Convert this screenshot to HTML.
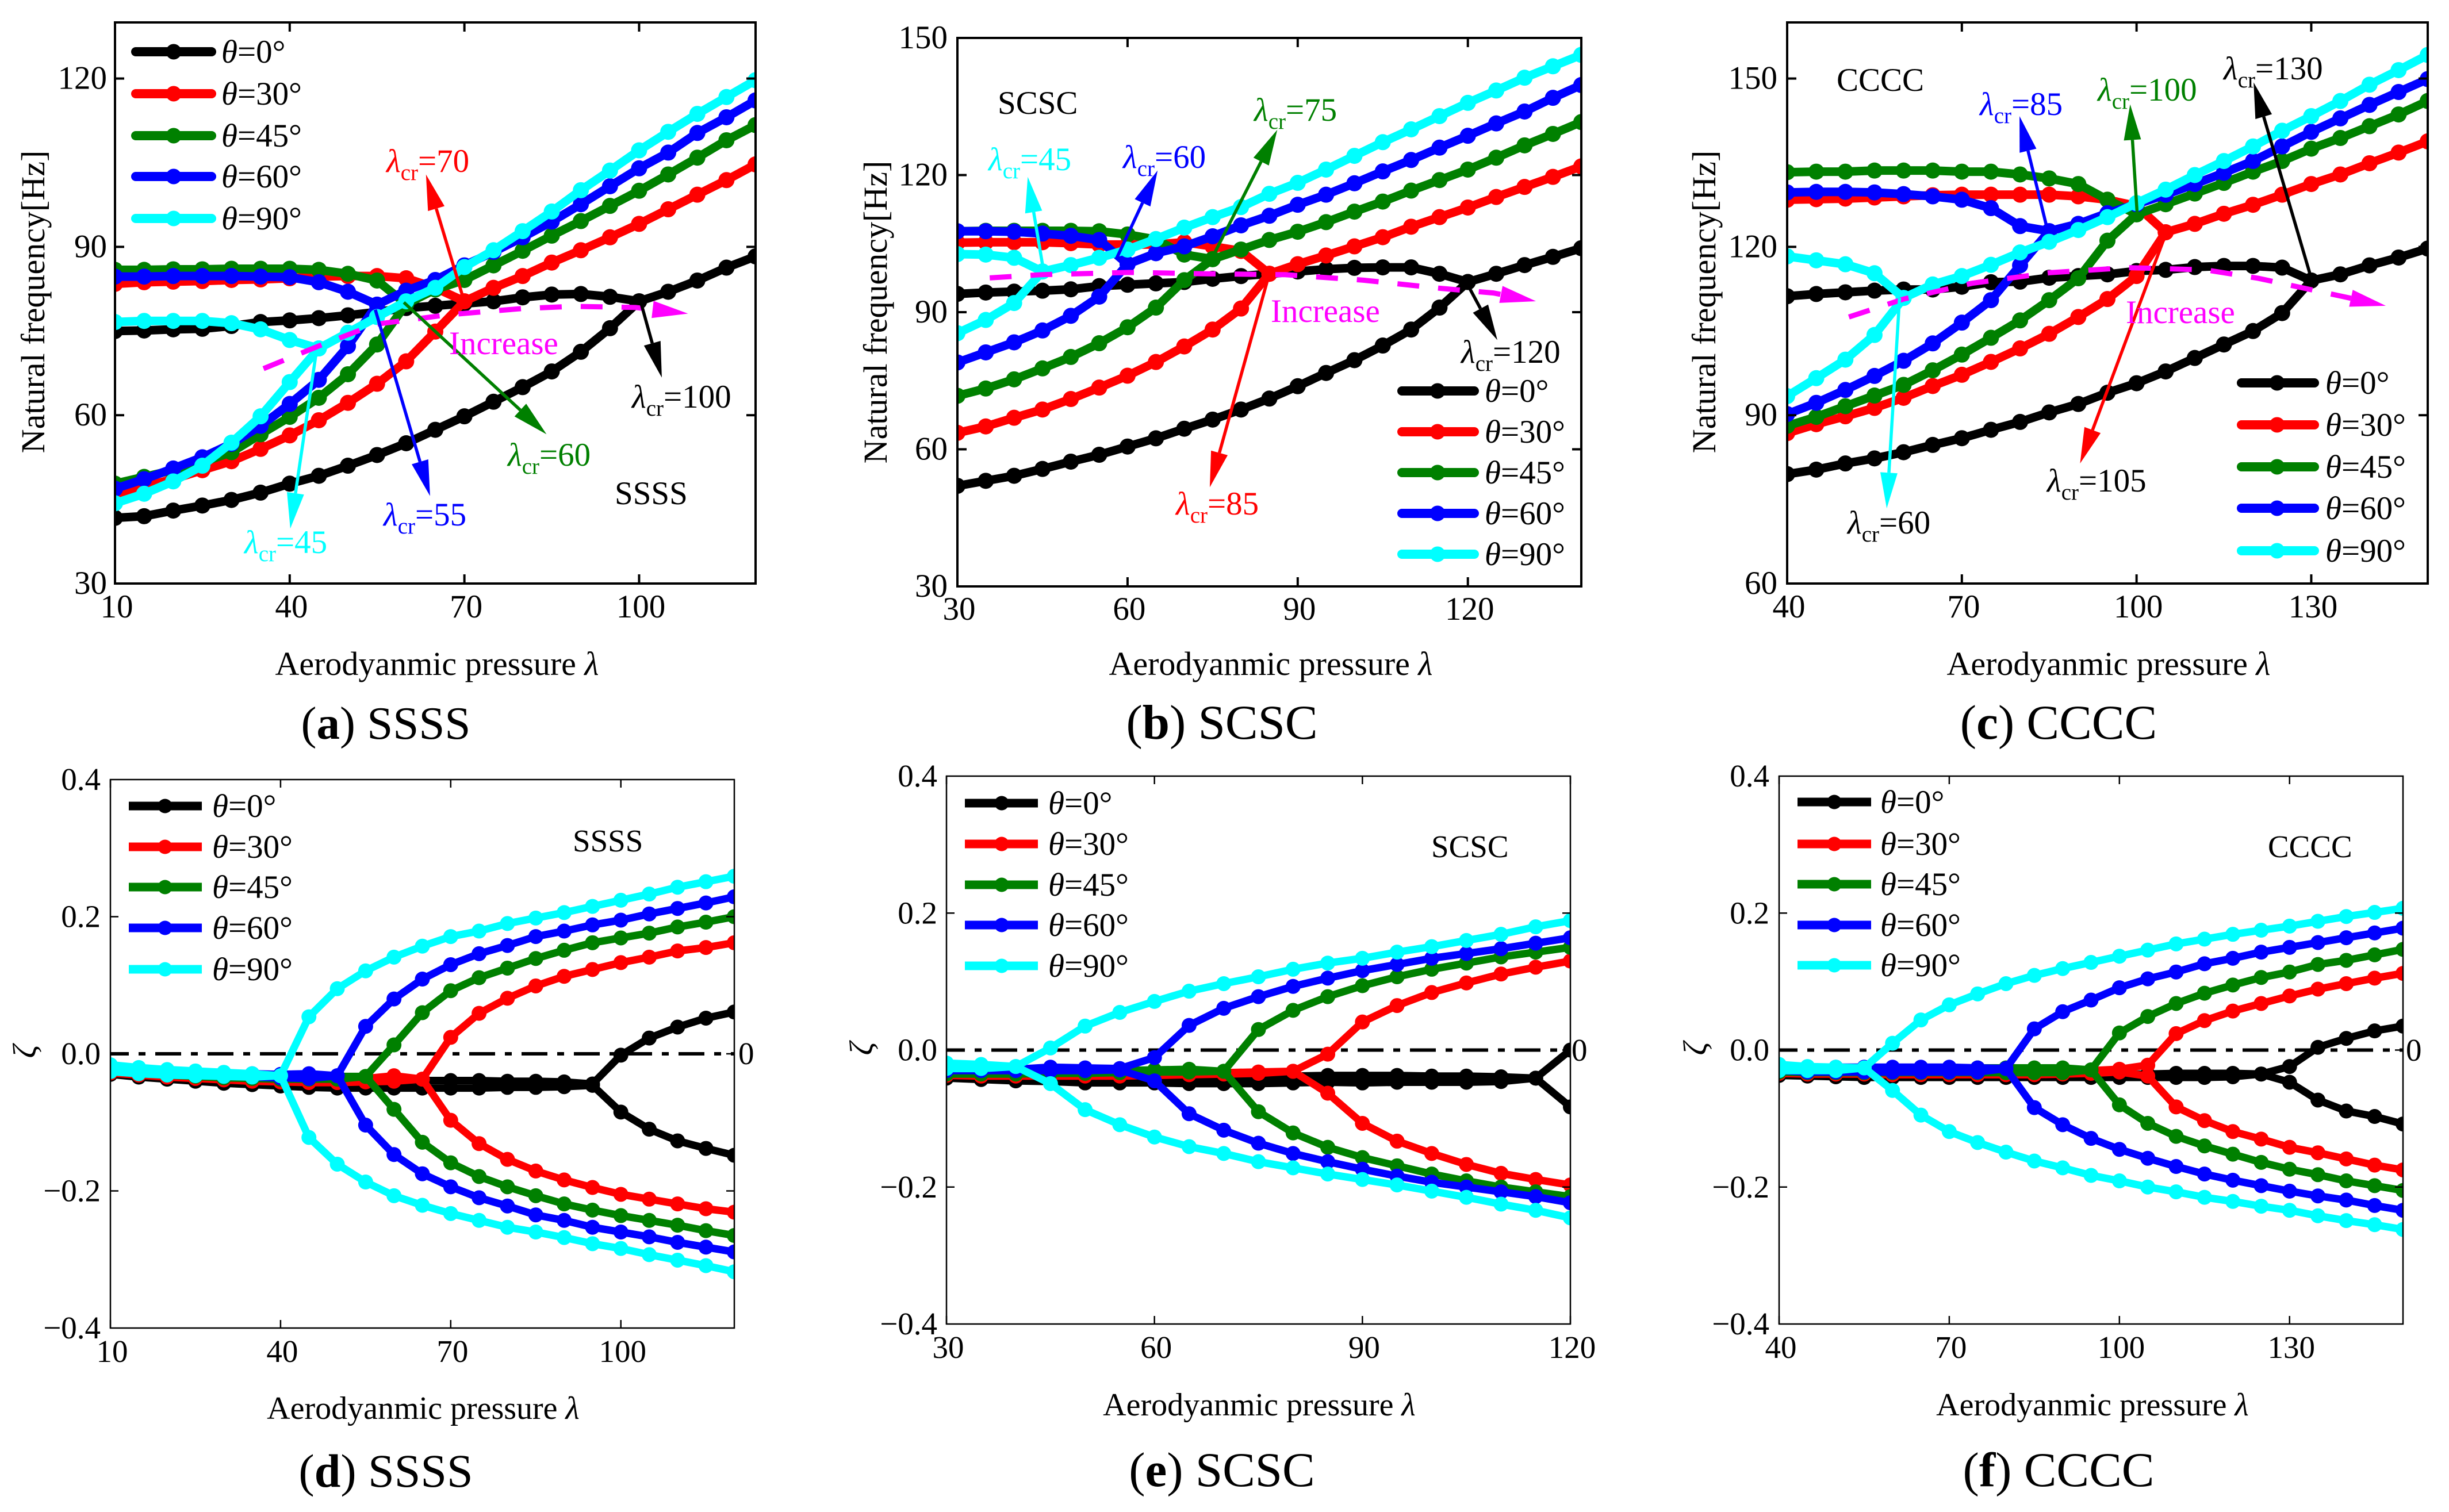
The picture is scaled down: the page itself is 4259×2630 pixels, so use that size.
<!DOCTYPE html>
<html lang="en">
<head>
<meta charset="utf-8">
<title>Natural frequency and damping versus aerodynamic pressure</title>
<style>
html,body{margin:0;padding:0;background:#fff;}
svg{display:block;}
text{font-family:"Liberation Serif","Noto Serif CJK SC",serif;font-size:57px;fill:#000;}
.i{font-style:italic;}
.s{font-size:39px;}
.cap{font-size:81px;text-anchor:middle;}
.capw{font-size:85px;}
.capd{font-size:82px;}
.b{font-weight:bold;}
.mid{text-anchor:middle;}
.sm{font-size:55px;}
.t{font-size:58px;}
.ts{font-size:56px;}
.leg line{stroke-width:16;stroke-linecap:round;}
.leg2 line{stroke-width:15;stroke-linecap:butt;}
</style>
</head>
<body>
<svg xmlns="http://www.w3.org/2000/svg" width="4259" height="2630" viewBox="0 0 4259 2630">
<rect width="4259" height="2630" fill="#fff"/>
<defs id="clips"></defs>
<g id="plot-a"></g>
<g id="plot-b"></g>
<g id="plot-c"></g>
<g id="plot-d"></g>
<g id="plot-e"></g>
<g id="plot-f"></g>

<!-- Panel a -->
<g>
<g class="leg">
<g><line x1="236" x2="368" y1="90" y2="90" stroke="#000"/><circle cx="302" cy="90" r="13.5" fill="#000"/><text x="385" y="109"><tspan class="i">θ</tspan>=0°</text></g>
<g><line x1="236" x2="368" y1="163" y2="163" stroke="#f00"/><circle cx="302" cy="163" r="13.5" fill="#f00"/><text x="385" y="182"><tspan class="i">θ</tspan>=30°</text></g>
<g><line x1="236" x2="368" y1="236" y2="236" stroke="#008000"/><circle cx="302" cy="236" r="13.5" fill="#008000"/><text x="385" y="255"><tspan class="i">θ</tspan>=45°</text></g>
<g><line x1="236" x2="368" y1="307" y2="307" stroke="#00f"/><circle cx="302" cy="307" r="13.5" fill="#00f"/><text x="385" y="326"><tspan class="i">θ</tspan>=60°</text></g>
<g><line x1="236" x2="368" y1="380" y2="380" stroke="#0ff"/><circle cx="302" cy="380" r="13.5" fill="#0ff"/><text x="385" y="399"><tspan class="i">θ</tspan>=90°</text></g>
</g>
<text x="77" y="525" class="mid t" transform="rotate(-90 77 525)">Natural frequency[Hz]</text>
<text x="760" y="1174" class="mid t">Aerodyanmic pressure <tspan class="i">λ</tspan></text>
<text x="671" y="1285" class="cap">(<tspan class="b">a</tspan>) SSSS</text>
<text x="1069" y="877">SSSS</text>
<text x="781" y="616" style="fill:#f0f">Increase</text>
<text x="672" y="299" style="fill:#f00"><tspan class="i">λ</tspan><tspan class="s" dy="14">cr</tspan><tspan dy="-14">=70</tspan></text>
<text x="883" y="810" style="fill:#008000"><tspan class="i">λ</tspan><tspan class="s" dy="14">cr</tspan><tspan dy="-14">=60</tspan></text>
<text x="667" y="914" style="fill:#00f"><tspan class="i">λ</tspan><tspan class="s" dy="14">cr</tspan><tspan dy="-14">=55</tspan></text>
<text x="425" y="962" style="fill:#0ff"><tspan class="i">λ</tspan><tspan class="s" dy="14">cr</tspan><tspan dy="-14">=45</tspan></text>
<text x="1099" y="709"><tspan class="i">λ</tspan><tspan class="s" dy="14">cr</tspan><tspan dy="-14">=100</tspan></text>
</g>

<!-- Panel b -->
<g>
<g class="leg">
<g><line x1="2438" x2="2564" y1="680" y2="680" stroke="#000"/><circle cx="2500" cy="680" r="13.5" fill="#000"/><text x="2582" y="699"><tspan class="i">θ</tspan>=0°</text></g>
<g><line x1="2438" x2="2564" y1="751" y2="751" stroke="#f00"/><circle cx="2500" cy="751" r="13.5" fill="#f00"/><text x="2582" y="770"><tspan class="i">θ</tspan>=30°</text></g>
<g><line x1="2438" x2="2564" y1="822" y2="822" stroke="#008000"/><circle cx="2500" cy="822" r="13.5" fill="#008000"/><text x="2582" y="841"><tspan class="i">θ</tspan>=45°</text></g>
<g><line x1="2438" x2="2564" y1="893" y2="893" stroke="#00f"/><circle cx="2500" cy="893" r="13.5" fill="#00f"/><text x="2582" y="912"><tspan class="i">θ</tspan>=60°</text></g>
<g><line x1="2438" x2="2564" y1="964" y2="964" stroke="#0ff"/><circle cx="2500" cy="964" r="13.5" fill="#0ff"/><text x="2582" y="983"><tspan class="i">θ</tspan>=90°</text></g>
</g>
<text x="1542" y="543" class="mid t" transform="rotate(-90 1542 543)">Natural frequency[Hz]</text>
<text x="2210" y="1174" class="mid t">Aerodyanmic pressure <tspan class="i">λ</tspan></text>
<text x="2125" y="1285" class="cap capw">(<tspan class="b">b</tspan>) SCSC</text>
<text x="1735" y="198">SCSC</text>
<text x="2210" y="560" style="fill:#f0f">Increase</text>
<text x="1719" y="296" style="fill:#0ff"><tspan class="i">λ</tspan><tspan class="s" dy="14">cr</tspan><tspan dy="-14">=45</tspan></text>
<text x="1953" y="292" style="fill:#00f"><tspan class="i">λ</tspan><tspan class="s" dy="14">cr</tspan><tspan dy="-14">=60</tspan></text>
<text x="2181" y="210" style="fill:#008000"><tspan class="i">λ</tspan><tspan class="s" dy="14">cr</tspan><tspan dy="-14">=75</tspan></text>
<text x="2045" y="895" style="fill:#f00"><tspan class="i">λ</tspan><tspan class="s" dy="14">cr</tspan><tspan dy="-14">=85</tspan></text>
<text x="2541" y="631"><tspan class="i">λ</tspan><tspan class="s" dy="14">cr</tspan><tspan dy="-14">=120</tspan></text>
</g>

<!-- Panel c -->
<g>
<g class="leg">
<g><line x1="3898" x2="4025" y1="666" y2="666" stroke="#000"/><circle cx="3960" cy="666" r="13.5" fill="#000"/><text x="4044" y="685"><tspan class="i">θ</tspan>=0°</text></g>
<g><line x1="3898" x2="4025" y1="739" y2="739" stroke="#f00"/><circle cx="3960" cy="739" r="13.5" fill="#f00"/><text x="4044" y="758"><tspan class="i">θ</tspan>=30°</text></g>
<g><line x1="3898" x2="4025" y1="812" y2="812" stroke="#008000"/><circle cx="3960" cy="812" r="13.5" fill="#008000"/><text x="4044" y="831"><tspan class="i">θ</tspan>=45°</text></g>
<g><line x1="3898" x2="4025" y1="884" y2="884" stroke="#00f"/><circle cx="3960" cy="884" r="13.5" fill="#00f"/><text x="4044" y="903"><tspan class="i">θ</tspan>=60°</text></g>
<g><line x1="3898" x2="4025" y1="958" y2="958" stroke="#0ff"/><circle cx="3960" cy="958" r="13.5" fill="#0ff"/><text x="4044" y="977"><tspan class="i">θ</tspan>=90°</text></g>
</g>
<text x="2983" y="525" class="mid t" transform="rotate(-90 2983 525)">Natural frequency[Hz]</text>
<text x="3667" y="1174" class="mid t">Aerodyanmic pressure <tspan class="i">λ</tspan></text>
<text x="3580" y="1285" class="cap capw">(<tspan class="b">c</tspan>) CCCC</text>
<text x="3194" y="158">CCCC</text>
<text x="3697" y="562" style="fill:#f0f">Increase</text>
<text x="3443" y="200" style="fill:#00f"><tspan class="i">λ</tspan><tspan class="s" dy="14">cr</tspan><tspan dy="-14">=85</tspan></text>
<text x="3648" y="175" style="fill:#008000"><tspan class="i">λ</tspan><tspan class="s" dy="14">cr</tspan><tspan dy="-14">=100</tspan></text>
<text x="3867" y="138"><tspan class="i">λ</tspan><tspan class="s" dy="14">cr</tspan><tspan dy="-14">=130</tspan></text>
<text x="3213" y="928"><tspan class="i">λ</tspan><tspan class="s" dy="14">cr</tspan><tspan dy="-14">=60</tspan></text>
<text x="3560" y="855"><tspan class="i">λ</tspan><tspan class="s" dy="14">cr</tspan><tspan dy="-14">=105</tspan></text>
</g>

<!-- Panel d -->
<g>
<g class="leg2">
<g><line x1="224" x2="351" y1="1402" y2="1402" stroke="#000"/><circle cx="287" cy="1402" r="12.5" fill="#000"/><text x="369" y="1421"><tspan class="i">θ</tspan>=0°</text></g>
<g><line x1="224" x2="351" y1="1473" y2="1473" stroke="#f00"/><circle cx="287" cy="1473" r="12.5" fill="#f00"/><text x="369" y="1492"><tspan class="i">θ</tspan>=30°</text></g>
<g><line x1="224" x2="351" y1="1543" y2="1543" stroke="#008000"/><circle cx="287" cy="1543" r="12.5" fill="#008000"/><text x="369" y="1562"><tspan class="i">θ</tspan>=45°</text></g>
<g><line x1="224" x2="351" y1="1614" y2="1614" stroke="#00f"/><circle cx="287" cy="1614" r="12.5" fill="#00f"/><text x="369" y="1633"><tspan class="i">θ</tspan>=60°</text></g>
<g><line x1="224" x2="351" y1="1686" y2="1686" stroke="#0ff"/><circle cx="287" cy="1686" r="12.5" fill="#0ff"/><text x="369" y="1705"><tspan class="i">θ</tspan>=90°</text></g>
</g>
<text x="62" y="1829" class="mid i" transform="rotate(-90 62 1829)">ζ</text>
<text x="736" y="2468" class="mid ts">Aerodyanmic pressure <tspan class="i">λ</tspan></text>
<text x="671" y="2586" class="cap capd">(<tspan class="b">d</tspan>) SSSS</text>
<text x="996" y="1481" class="sm">SSSS</text>
<text x="1284" y="1851" class="sm">0</text>
</g>

<!-- Panel e -->
<g>
<g class="leg2">
<g><line x1="1678" x2="1805" y1="1397" y2="1397" stroke="#000"/><circle cx="1742" cy="1397" r="12.5" fill="#000"/><text x="1823" y="1416"><tspan class="i">θ</tspan>=0°</text></g>
<g><line x1="1678" x2="1805" y1="1468" y2="1468" stroke="#f00"/><circle cx="1742" cy="1468" r="12.5" fill="#f00"/><text x="1823" y="1487"><tspan class="i">θ</tspan>=30°</text></g>
<g><line x1="1678" x2="1805" y1="1539" y2="1539" stroke="#008000"/><circle cx="1742" cy="1539" r="12.5" fill="#008000"/><text x="1823" y="1558"><tspan class="i">θ</tspan>=45°</text></g>
<g><line x1="1678" x2="1805" y1="1609" y2="1609" stroke="#00f"/><circle cx="1742" cy="1609" r="12.5" fill="#00f"/><text x="1823" y="1628"><tspan class="i">θ</tspan>=60°</text></g>
<g><line x1="1678" x2="1805" y1="1680" y2="1680" stroke="#0ff"/><circle cx="1742" cy="1680" r="12.5" fill="#0ff"/><text x="1823" y="1699"><tspan class="i">θ</tspan>=90°</text></g>
</g>
<text x="1517" y="1824" class="mid i" transform="rotate(-90 1517 1824)">ζ</text>
<text x="2190" y="2462" class="mid ts">Aerodyanmic pressure <tspan class="i">λ</tspan></text>
<text x="2125" y="2585" class="cap capw">(<tspan class="b">e</tspan>) SCSC</text>
<text x="2489" y="1491" class="sm">SCSC</text>
<text x="2733" y="1845" class="sm">0</text>
</g>

<!-- Panel f -->
<g>
<g class="leg2">
<g><line x1="3126" x2="3254" y1="1395" y2="1395" stroke="#000"/><circle cx="3190" cy="1395" r="12.5" fill="#000"/><text x="3270" y="1414"><tspan class="i">θ</tspan>=0°</text></g>
<g><line x1="3126" x2="3254" y1="1468" y2="1468" stroke="#f00"/><circle cx="3190" cy="1468" r="12.5" fill="#f00"/><text x="3270" y="1487"><tspan class="i">θ</tspan>=30°</text></g>
<g><line x1="3126" x2="3254" y1="1538" y2="1538" stroke="#008000"/><circle cx="3190" cy="1538" r="12.5" fill="#008000"/><text x="3270" y="1557"><tspan class="i">θ</tspan>=45°</text></g>
<g><line x1="3126" x2="3254" y1="1609" y2="1609" stroke="#00f"/><circle cx="3190" cy="1609" r="12.5" fill="#00f"/><text x="3270" y="1628"><tspan class="i">θ</tspan>=60°</text></g>
<g><line x1="3126" x2="3254" y1="1679" y2="1679" stroke="#0ff"/><circle cx="3190" cy="1679" r="12.5" fill="#0ff"/><text x="3270" y="1698"><tspan class="i">θ</tspan>=90°</text></g>
</g>
<text x="2967" y="1824" class="mid i" transform="rotate(-90 2967 1824)">ζ</text>
<text x="3639" y="2462" class="mid ts">Aerodyanmic pressure <tspan class="i">λ</tspan></text>
<text x="3580" y="2585" class="cap capw">(<tspan class="b">f</tspan>) CCCC</text>
<text x="3944" y="1491" class="sm">CCCC</text>
<text x="4184" y="1845" class="sm">0</text>
</g>
</svg>

<script>
// ---------- shared categories and tick labels ----------
const lambda10to120 = [10,15,20,25,30,35,40,45,50,55,60,65,70,75,80,85,90,95,100,105,110,115,120];
const lambda30to140 = [30,35,40,45,50,55,60,65,70,75,80,85,90,95,100,105,110,115,120,125,130,135,140];
const lambda40to150 = [40,45,50,55,60,65,70,75,80,85,90,95,100,105,110,115,120,125,130,135,140,145,150];
const lambda30to120 = [30,35,40,45,50,55,60,65,70,75,80,85,90,95,100,105,110,115,120];
const seriesNames = ['theta-0','theta-30','theta-45','theta-60','theta-90'];
const seriesColors = ['#000','#f00','#008000','#00f','#0ff'];
const aXTicks = [10,40,70,100];
const aYTicks = [30,60,90,120];
const bXTicks = [30,60,90,120];
const bYTicks = [30,60,90,120,150];
const cXTicks = [40,70,100,130];
const cYTicks = [60,90,120,150];
const dXTicks = [10,40,70,100];
const eXTicks = [30,60,90,120];
const fXTicks = [40,70,100,130];
const zetaTicks = [-0.4,-0.2,0,0.2,0.4];

// ---------- panel a: frequency, SSSS ----------
const aBlackLow = [41.7,42,43,43.9,44.9,46.2,47.8,49.2,51,52.9,55,57.4,59.8,62.4,65,67.8,71.3,75.5,80.3,82,84,86.3,88.3];
const aBlackHigh = [75,75.1,75.3,75.4,75.9,76.6,76.9,77.3,77.8,78.4,79.1,79.5,79.9,80.3,81,81.5,81.6,81.1,80.3];
const aRedLow = [46,47.3,48.6,50.2,51.8,54,56.4,59.1,62.2,65.6,69.6,74.9,80.3,82.7,84.8,87.2,89.4,91.7,94.1,96.7,99.3,101.9,104.7];
const aRedHigh = [83.4,83.7,83.8,83.9,84.1,84.2,84.4,84.7,84.8,84.8,84.4,82.7,80.3];
const aGreenLow = [47.8,49,50.2,51.6,53.4,56.6,59.7,63.1,67.3,72.6,79.8,82.4,84.1,86.7,89.3,92,94.6,97.3,100,102.9,105.9,109,111.7];
const aGreenHigh = [85.9,85.9,86,86,86.1,86.1,86.1,85.9,85.2,84,79.8];
const aBlueLow = [46.9,48.6,50.5,52.5,54.9,58.1,62,66.3,72.3,79.7,82.2,84.1,86.7,89.1,91.7,94.5,97.6,100.8,104,106.8,110.3,113.1,116.1];
const aBlueHigh = [84.7,84.7,84.8,84.8,84.8,84.7,84.6,83.7,82,79.7];
const aCyanLow = [44.3,46,48.2,51,55.1,59.8,65.9,71.9,74.7,77.5,80.3,82.7,86.4,89.4,92.8,96.3,100.1,103.6,107.2,110.5,113.7,116.7,119.7];
const aCyanHigh = [76.6,76.8,76.8,76.8,76.4,75.3,73.4,71.9];
const aIncreaseLambda = [35.5,44.9,54.7,67.2,79.8,88.7,99.4,108.4];
const aIncreaseFreq = [68.3,72.3,76.2,77.9,79,79.4,79.2,78.1];
const aArrowFrom = [[100.3,80.1],[69.7,81.2],[59.6,80.1],[54.7,78.8],[44.6,71.5]];
const aArrowTo = [[103.9,66.7],[63.4,102.9],[84.1,56.6],[64.1,45.6],[40.1,39.8]];

// ---------- panel b: frequency, SCSC ----------
const bBlackLow = [52,53.1,54.2,55.7,57.3,58.8,60.6,62.4,64.5,66.5,68.7,71.1,73.8,76.7,79.5,82.7,86.2,91,96.6,98.4,100.3,102.1,104];
const bBlackHigh = [94,94.3,94.5,94.7,95,95.7,96,96.3,96.6,97.3,97.9,98.4,98.9,99.4,99.7,99.8,99.8,98.4,96.6];
const bRedLow = [63.6,65,66.9,68.7,71,73.5,76.1,79.1,82.5,86.2,90.8,98.4,100.5,102.4,104.4,106.4,108.7,110.8,112.9,115.2,117.4,119.6,121.9];
const bRedHigh = [105.2,105.3,105.3,105.3,105.1,104.8,104.8,104.8,105.3,104.4,103.4,98.4];
const bGreenLow = [71.7,73.3,75.3,77.7,80.2,83.2,86.7,91,97,101.6,103.7,105.8,107.6,109.7,112,114.2,116.6,118.9,121.2,123.8,126.5,129,131.6];
const bGreenHigh = [107.7,107.8,107.8,107.8,107.8,107.7,107,105.9,102.6,101.6];
const bBlueLow = [79,81.2,83.4,86,89.2,93.4,100.5,102.9,104.4,106.6,109,111.1,113.5,115.7,118.2,120.8,123.3,126,128.6,131.3,133.9,136.9,139.7];
const bBlueHigh = [107.7,107.7,107.6,107.2,106.7,105.8,100.5];
const bCyanLow = [85.4,88.3,92,98.9,100.3,101.9,103.7,106,108.5,110.8,113,115.9,118.3,121.2,124.2,127.2,130,132.9,135.8,138.5,141.3,143.8,146.3];
const bCyanHigh = [102.7,102.6,101.9,98.9];
const bIncreaseLambda = [35.7,44.7,60.3,74,87.8,101.6,115.3,124.5,132];
const bIncreaseFreq = [97.5,98.2,98.7,98.4,98.2,97,95.2,94.2,92.4];
const bArrowFrom = [[120.1,95.7],[85.1,98.9],[75,102.1],[58,101.6],[45.1,99.7]];
const bArrowTo = [[125.2,83.9],[74.5,51.7],[86.4,129.9],[65.3,121],[42.4,119.6]];

// ---------- panel c: frequency, CCCC ----------
const cBlackLow = [79.5,80.3,81.4,82.3,83.4,84.7,85.9,87.4,88.8,90.5,92,94,95.7,97.8,100.2,102.6,105,108.2,114,115.1,116.7,118.1,119.7];
const cBlackHigh = [111.2,111.6,111.9,112.2,112.4,112.4,112.9,113.7,113.8,114.5,114.8,115.1,115.7,115.9,116.4,116.6,116.6,116.3,114];
const cRedLow = [86.8,88.4,89.8,91.3,93.1,95.2,97.2,99.5,101.9,104.5,107.5,110.7,114.8,122.6,124.1,125.9,127.5,129.3,131.2,132.9,134.9,136.8,138.8];
const cRedHigh = [128.4,128.5,128.6,128.8,129,129.2,129.3,129.3,129.3,129.3,129,128.4,127.3,122.6];
const cGreenLow = [88.1,89.7,91.6,93.5,95.4,98,100.8,103.8,106.9,110.5,114.4,121.1,125.8,127.6,129.5,131.4,133.4,135.3,137.5,139.4,141.5,143.6,146];
const cGreenHigh = [133.3,133.4,133.4,133.6,133.6,133.6,133.4,133.4,132.9,132.2,131.2,128.4,125.8];
const cBlueLow = [90.2,92.2,94.5,97,99.7,102.8,106.5,110.5,116.7,122.8,124.1,126,127.6,129.3,131.2,133.2,135.3,137.9,140.5,142.9,145.3,147.6,149.9];
const cBlueHigh = [129.7,129.8,129.8,129.7,129.4,129,128.4,126.9,123.7,122.8];
const cCyanLow = [93.4,96.6,99.9,104.3,110.9,113.3,114.8,116.8,119,120.9,123,125.3,127.8,130.2,132.8,135.3,137.9,140.7,143.3,146,148.9,151.5,154.2];
const cCyanHigh = [118.3,117.6,116.9,115.3,110.9];
const cIncreaseLambda = [50.6,60,71.7,85.1,98.5,111.9,120.9,132.5,142.8];
const cIncreaseFreq = [107.5,110.7,113.5,115.4,116.3,115.9,114.4,111.8,109.5];
const cArrowFrom = [[130,114.4],[104.8,121.7],[100.1,126],[84.8,122.6],[59.3,110.9]];
const cArrowTo = [[120.1,149.3],[90.3,81.4],[98.9,145.4],[79.9,143.3],[57.1,73.4]];

// ---------- panel d: damping, SSSS ----------
const dBlackUpper = [-.028,-.031,-.033,-.035,-.037,-.038,-.039,-.04,-.04,-.04,-.04,-.039,-.039,-.039,-.04,-.04,-.041,-.044,-.002,.023,.039,.052,.061];
const dBlackLower = [-.03,-.034,-.037,-.04,-.043,-.045,-.047,-.049,-.05,-.05,-.05,-.05,-.05,-.05,-.049,-.049,-.048,-.046,-.085,-.11,-.127,-.138,-.148];
const dRedUpper = [-.025,-.028,-.03,-.032,-.034,-.035,-.036,-.037,-.037,-.036,-.032,-.037,.024,.059,.081,.099,.113,.123,.133,.141,.15,.155,.162];
const dRedLower = [-.028,-.031,-.034,-.036,-.038,-.04,-.041,-.042,-.042,-.041,-.04,-.037,-.097,-.131,-.154,-.171,-.184,-.195,-.205,-.212,-.219,-.226,-.231];
const dGreenUpper = [-.022,-.025,-.027,-.029,-.03,-.031,-.032,-.033,-.033,-.033,.013,.06,.092,.111,.125,.139,.151,.162,.169,.176,.185,.192,.2];
const dGreenLower = [-.026,-.029,-.031,-.033,-.035,-.036,-.037,-.037,-.037,-.033,-.081,-.129,-.159,-.179,-.194,-.207,-.219,-.228,-.236,-.243,-.25,-.258,-.265];
const dBlueUpper = [-.02,-.023,-.025,-.027,-.028,-.029,-.03,-.029,-.032,.04,.08,.109,.13,.146,.158,.171,.179,.188,.195,.204,.212,.22,.229];
const dBlueLower = [-.024,-.027,-.029,-.031,-.033,-.034,-.035,-.036,-.032,-.104,-.147,-.175,-.194,-.21,-.222,-.235,-.243,-.253,-.26,-.267,-.275,-.282,-.289];
const dCyanUpper = [-.016,-.02,-.023,-.025,-.027,-.029,-.032,.054,.095,.121,.141,.157,.171,.179,.19,.198,.206,.215,.224,.233,.243,.251,.259];
const dCyanLower = [-.026,-.029,-.031,-.032,-.033,-.034,-.032,-.122,-.161,-.187,-.207,-.221,-.233,-.243,-.253,-.26,-.268,-.277,-.284,-.293,-.301,-.309,-.318];

// ---------- panel e: damping, SCSC ----------
const eBlackUpper = [-.04,-.042,-.044,-.045,-.046,-.046,-.045,-.043,-.042,-.04,-.038,-.037,-.037,-.037,-.038,-.038,-.039,-.041,0];
const eBlackLower = [-.041,-.043,-.045,-.046,-.048,-.048,-.048,-.049,-.049,-.049,-.048,-.047,-.048,-.047,-.047,-.047,-.046,-.041,-.083];
const eRedUpper = [-.034,-.035,-.035,-.035,-.035,-.035,-.034,-.034,-.033,-.032,-.031,-.006,.041,.065,.084,.098,.111,.121,.13];
const eRedLower = [-.037,-.038,-.038,-.038,-.038,-.038,-.037,-.036,-.035,-.034,-.031,-.063,-.107,-.133,-.151,-.167,-.18,-.189,-.197];
const eGreenUpper = [-.03,-.031,-.031,-.031,-.031,-.03,-.029,-.028,-.031,.03,.058,.078,.094,.107,.118,.127,.136,.143,.15];
const eGreenLower = [-.035,-.035,-.035,-.034,-.034,-.033,-.032,-.032,-.031,-.09,-.121,-.142,-.157,-.169,-.181,-.191,-.2,-.207,-.214];
const eBlueUpper = [-.027,-.027,-.028,-.025,-.026,-.027,-.011,.036,.061,.078,.093,.105,.116,.125,.134,.141,.148,.156,.164];
const eBlueLower = [-.03,-.03,-.03,-.03,-.03,-.029,-.045,-.093,-.117,-.136,-.151,-.163,-.174,-.184,-.193,-.2,-.207,-.214,-.223];
const eCyanUpper = [-.019,-.021,-.024,.003,.035,.055,.071,.086,.097,.107,.118,.127,.134,.143,.151,.16,.169,.18,.189];
const eCyanLower = [-.027,-.027,-.024,-.049,-.087,-.109,-.127,-.141,-.151,-.163,-.172,-.181,-.189,-.197,-.206,-.215,-.225,-.234,-.245];

// ---------- panel f: damping, CCCC ----------
const fBlackUpper = [-.034,-.035,-.035,-.036,-.036,-.036,-.036,-.036,-.036,-.036,-.036,-.036,-.036,-.035,-.034,-.034,-.034,-.035,-.024,.004,.017,.028,.035];
const fBlackLower = [-.037,-.038,-.039,-.04,-.04,-.04,-.04,-.04,-.04,-.04,-.04,-.04,-.04,-.04,-.04,-.04,-.039,-.035,-.047,-.073,-.089,-.097,-.108];
const fRedUpper = [-.028,-.029,-.03,-.03,-.03,-.03,-.03,-.03,-.03,-.03,-.03,-.03,-.028,-.022,.024,.043,.057,.068,.079,.089,.097,.105,.112];
const fRedLower = [-.034,-.035,-.035,-.035,-.036,-.036,-.036,-.036,-.036,-.036,-.035,-.034,-.032,-.038,-.083,-.103,-.119,-.13,-.142,-.15,-.159,-.168,-.175];
const fGreenUpper = [-.026,-.027,-.027,-.027,-.027,-.027,-.026,-.026,-.026,-.026,-.026,-.029,.025,.049,.068,.083,.095,.106,.114,.125,.131,.139,.147];
const fGreenLower = [-.032,-.033,-.033,-.033,-.033,-.033,-.033,-.033,-.033,-.033,-.033,-.029,-.08,-.107,-.126,-.14,-.152,-.164,-.174,-.182,-.191,-.198,-.205];
const fBlueUpper = [-.024,-.025,-.025,-.025,-.025,-.025,-.025,-.026,-.027,.031,.056,.073,.091,.104,.114,.126,.134,.143,.15,.157,.164,.171,.178];
const fBlueLower = [-.03,-.032,-.032,-.032,-.032,-.032,-.032,-.032,-.027,-.084,-.109,-.129,-.145,-.158,-.17,-.181,-.19,-.198,-.206,-.213,-.219,-.227,-.234];
const fCyanUpper = [-.021,-.024,-.025,-.026,.01,.044,.066,.082,.097,.109,.119,.128,.137,.146,.155,.162,.169,.175,.181,.188,.195,.201,.207];
const fCyanLower = [-.03,-.03,-.03,-.026,-.059,-.095,-.119,-.135,-.149,-.162,-.172,-.183,-.191,-.2,-.207,-.215,-.221,-.228,-.234,-.242,-.249,-.255,-.262];

// ---------- drawing ----------
const SVGNS = 'http://www.w3.org/2000/svg';

function make(parent, tag, attrs, name) {
  const el = document.createElementNS(SVGNS, tag);
  for (const k in attrs) el.setAttribute(k, attrs[k]);
  
  
  parent.appendChild(el);
  return el;
}

function zetaLabel(v) {
  if (v === 0) return '0.0';
  return (v < 0 ? '\u2212' : '') + Math.abs(v).toFixed(1);
}

function arrowHead(group, x0, y0, x1, y1, color, name) {
  const len = Math.hypot(x1 - x0, y1 - y0);
  const ux = (x1 - x0) / len;
  const uy = (y1 - y0) / len;
  const bx = x1 - ux * 62;
  const by = y1 - uy * 62;
  const hw = 15;
  const pts = x1 + ',' + y1 + ' ' + (bx - uy * hw) + ',' + (by + ux * hw) + ' ' + (bx + uy * hw) + ',' + (by - ux * hw);
  make(group, 'polygon', {points: pts, fill: color}, name);
  return [bx, by];
}

function drawPanel(cfg) {
  const root = document.getElementById('plot-' + cfg.id);
  const sx = v => cfg.left + (v - cfg.xMin) / (cfg.xMax - cfg.xMin) * (cfg.right - cfg.left);
  const sy = v => cfg.bottom - (v - cfg.yMin) / (cfg.yMax - cfg.yMin) * (cfg.bottom - cfg.top);

  const clip = make(document.getElementById('clips'), 'clipPath', {id: 'clip-' + cfg.id}, 'plot-clip');
  make(clip, 'rect', {x: cfg.left, y: cfg.top, width: cfg.right - cfg.left, height: cfg.bottom - cfg.top}, 'plot-clip-rect');

  const plot = make(root, 'g', {'clip-path': 'url(#clip-' + cfg.id + ')'}, 'plot-area');

  if (cfg.zeroLine) {
    make(plot, 'line', {x1: cfg.left, x2: cfg.right, y1: sy(0), y2: sy(0), stroke: '#000', 'stroke-width': 6, 'stroke-dasharray': '45 17 12 17', 'stroke-dashoffset': 13}, 'zero-reference-line');
  }

  cfg.series.forEach(function (branches, si) {
    const color = seriesColors[si];
    const group = make(plot, 'g', {}, 'series-' + seriesNames[si]);
    branches.forEach(function (values, bi) {
      const pts = values.map((v, i) => sx(cfg.lambda[i]) + ',' + sy(v)).join(' ');
      make(group, 'polyline', {points: pts, fill: 'none', stroke: color, 'stroke-width': cfg.lineWidth, 'stroke-linejoin': 'round', 'stroke-linecap': 'round'}, 'line-' + seriesNames[si] + '-branch-' + (bi + 1));
      values.forEach(function (v, i) {
        make(group, 'circle', {cx: sx(cfg.lambda[i]), cy: sy(v), r: cfg.markerRadius, fill: color}, 'point-' + seriesNames[si]);
      });
    });
  });

  const frame = make(root, 'g', {}, 'axes');
  make(frame, 'rect', {x: cfg.left, y: cfg.top, width: cfg.right - cfg.left, height: cfg.bottom - cfg.top, fill: 'none', stroke: '#000', 'stroke-width': cfg.frameWidth}, 'axes-frame');

  cfg.xTicks.forEach(function (t) {
    const x = sx(t);
    make(frame, 'line', {x1: x, x2: x, y1: cfg.bottom, y2: cfg.bottom - cfg.tickLength, stroke: '#000', 'stroke-width': cfg.frameWidth}, 'x-tick');
    make(frame, 'line', {x1: x, x2: x, y1: cfg.top, y2: cfg.top + cfg.tickLength, stroke: '#000', 'stroke-width': cfg.frameWidth}, 'x-tick-top');
    const lab = make(frame, 'text', {x: x + 3, y: cfg.bottom + cfg.xLabelDrop, 'text-anchor': 'middle', style: 'font-size:' + cfg.tickFont + 'px'}, 'x-tick-label');
    lab.textContent = String(t);
  });
  cfg.yTicks.forEach(function (t) {
    const y = sy(t);
    if (t !== cfg.yMin && t !== cfg.yMax) {
      make(frame, 'line', {x1: cfg.left, x2: cfg.left + cfg.tickLength, y1: y, y2: y, stroke: '#000', 'stroke-width': cfg.frameWidth}, 'y-tick');
      make(frame, 'line', {x1: cfg.right, x2: cfg.right - cfg.tickLength, y1: y, y2: y, stroke: '#000', 'stroke-width': cfg.frameWidth}, 'y-tick-right');
    }
    const lab = make(frame, 'text', {x: cfg.yLabelRight, y: y + 18, 'text-anchor': 'end', style: 'font-size:' + cfg.tickFont + 'px'}, 'y-tick-label');
    lab.textContent = cfg.zeroLine ? zetaLabel(t) : String(t);
  });

  if (cfg.increaseLambda) {
    const trend = make(root, 'g', {}, 'increase-trend');
    const n = cfg.increaseLambda.length;
    const xs = cfg.increaseLambda.map(sx);
    const ys = cfg.increaseFreq.map(sy);
    const base = arrowHead(trend, xs[n - 2], ys[n - 2], xs[n - 1], ys[n - 1], '#f0f', 'increase-arrow-head');
    const pts = xs.slice(0, n - 1).map((x, i) => x + ',' + ys[i]).join(' ') + ' ' + base[0] + ',' + base[1];
    make(trend, 'polyline', {points: pts, fill: 'none', stroke: '#f0f', 'stroke-width': 9, 'stroke-dasharray': '38 33'}, 'increase-dashed-line');

    const arrows = make(root, 'g', {}, 'critical-arrows');
    cfg.arrowFrom.forEach(function (from, i) {
      const x0 = sx(from[0]);
      const y0 = sy(from[1]);
      const x1 = sx(cfg.arrowTo[i][0]);
      const y1 = sy(cfg.arrowTo[i][1]);
      const color = cfg.arrowColors[i];
      const b = arrowHead(arrows, x0, y0, x1, y1, color, 'critical-arrow-head-' + seriesNames[i]);
      make(arrows, 'line', {x1: x0, y1: y0, x2: b[0], y2: b[1], stroke: color, 'stroke-width': 5.5}, 'critical-arrow-' + seriesNames[i]);
    });
  }
}

drawPanel({id:'a',left:200,right:1314,top:39,bottom:1015,xMin:10,xMax:120,yMin:30,yMax:130,lambda:lambda10to120,
  series:[[aBlackHigh,aBlackLow],[aRedHigh,aRedLow],[aGreenHigh,aGreenLow],[aBlueHigh,aBlueLow],[aCyanHigh,aCyanLow]],
  xTicks:aXTicks,yTicks:aYTicks,lineWidth:15,markerRadius:14,frameWidth:4,tickLength:16,xLabelDrop:59,yLabelRight:186,tickFont:57,
  increaseLambda:aIncreaseLambda,increaseFreq:aIncreaseFreq,arrowFrom:aArrowFrom,arrowTo:aArrowTo,arrowColors:seriesColors});
drawPanel({id:'b',left:1665,right:2750,top:66,bottom:1020,xMin:30,xMax:140,yMin:30,yMax:150,lambda:lambda30to140,
  series:[[bBlackHigh,bBlackLow],[bRedHigh,bRedLow],[bGreenHigh,bGreenLow],[bBlueHigh,bBlueLow],[bCyanHigh,bCyanLow]],
  xTicks:bXTicks,yTicks:bYTicks,lineWidth:15,markerRadius:14,frameWidth:4,tickLength:16,xLabelDrop:58,yLabelRight:1648,tickFont:57,
  increaseLambda:bIncreaseLambda,increaseFreq:bIncreaseFreq,arrowFrom:bArrowFrom,arrowTo:bArrowTo,arrowColors:seriesColors});
drawPanel({id:'c',left:3108,right:4222,top:39,bottom:1015,xMin:40,xMax:150,yMin:60,yMax:160,lambda:lambda40to150,
  series:[[cBlackHigh,cBlackLow],[cRedHigh,cRedLow],[cGreenHigh,cGreenLow],[cBlueHigh,cBlueLow],[cCyanHigh,cCyanLow]],
  xTicks:cXTicks,yTicks:cYTicks,lineWidth:15,markerRadius:14,frameWidth:4,tickLength:16,xLabelDrop:59,yLabelRight:3091,tickFont:57,
  increaseLambda:cIncreaseLambda,increaseFreq:cIncreaseFreq,arrowFrom:cArrowFrom,arrowTo:cArrowTo,arrowColors:seriesColors});
drawPanel({id:'d',left:192,right:1277,top:1356,bottom:2310,xMin:10,xMax:120,yMin:-0.4,yMax:0.4,lambda:lambda10to120,zeroLine:true,
  series:[[dBlackUpper,dBlackLower],[dRedUpper,dRedLower],[dGreenUpper,dGreenLower],[dBlueUpper,dBlueLower],[dCyanUpper,dCyanLower]],
  xTicks:dXTicks,yTicks:zetaTicks,lineWidth:13,markerRadius:13,frameWidth:2.5,tickLength:14,xLabelDrop:59,yLabelRight:175,tickFont:55});
drawPanel({id:'e',left:1646,right:2731,top:1350,bottom:2303,xMin:30,xMax:120,yMin:-0.4,yMax:0.4,lambda:lambda30to120,zeroLine:true,
  series:[[eBlackUpper,eBlackLower],[eRedUpper,eRedLower],[eGreenUpper,eGreenLower],[eBlueUpper,eBlueLower],[eCyanUpper,eCyanLower]],
  xTicks:eXTicks,yTicks:zetaTicks,lineWidth:13,markerRadius:13,frameWidth:2.5,tickLength:14,xLabelDrop:59,yLabelRight:1630,tickFont:55});
drawPanel({id:'f',left:3094,right:4179,top:1350,bottom:2303,xMin:40,xMax:150,yMin:-0.4,yMax:0.4,lambda:lambda40to150,zeroLine:true,
  series:[[fBlackUpper,fBlackLower],[fRedUpper,fRedLower],[fGreenUpper,fGreenLower],[fBlueUpper,fBlueLower],[fCyanUpper,fCyanLower]],
  xTicks:fXTicks,yTicks:zetaTicks,lineWidth:13,markerRadius:13,frameWidth:2.5,tickLength:14,xLabelDrop:59,yLabelRight:3077,tickFont:55});
</script>
</body>
</html>
